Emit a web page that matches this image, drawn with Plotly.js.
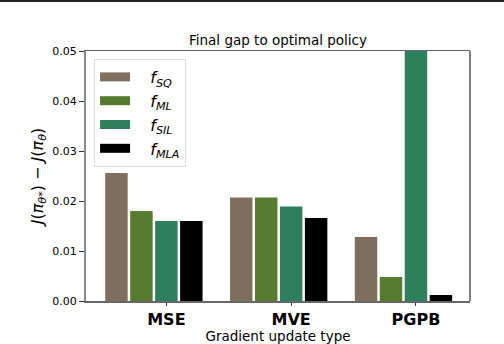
<!DOCTYPE html>
<html>
<head>
<meta charset="utf-8">
<script src="https://cdn.plot.ly/plotly-3.0.1.min.js"></script>
<style>
  body { margin: 0; background: #fff; }
  #chart { width: 504px; height: 342px; border-top: 2px solid #222; }
</style>
</head>
<body>
<div id="chart"></div>
<script>
// gradient update types on the x axis
const categories = ['MSE', 'MVE', 'PGPB'];

// final gap per loss function
const fSQ  = [0.0256, 0.0207, 0.0128];
const fML  = [0.0180, 0.0207, 0.0048];
const fSIL = [0.0160, 0.0189, 0.0520];
const fMLA = [0.0160, 0.0166, 0.0012];

const seriesNames = [
    '<i>f</i><sub><i>SQ</i></sub>',
    '<i>f</i><sub><i>ML</i></sub>',
    '<i>f</i><sub><i>SIL</i></sub>',
    '<i>f</i><sub><i>MLA</i></sub>'
];
const seriesColors = ['#806f5f', '#567d2f', '#2e7f5e', '#000000'];
const seriesValues = [fSQ, fML, fSIL, fMLA];

let traces = [];
// bars, shifted so the tick lands on the third bar like in the original
seriesValues.forEach(function(vals, k) {
    traces.push({
        type: 'bar',
        x: categories,
        y: vals,
        width: 0.18,
        offset: (k - 2) * 0.2 - 0.09,
        marker: {color: seriesColors[k], line: {width: 0}},
        showlegend: false,
        hoverinfo: 'skip'
    });
});
// legend proxies (wide flat swatches)
seriesValues.forEach(function(vals, k) {
    traces.push({
        type: 'scatter',
        mode: 'lines',
        x: [null],
        y: [null],
        name: '\u00a0\u00a0\u00a0' + seriesNames[k],
        line: {color: seriesColors[k], width: 9}
    });
});

var layout = {
    width: 504,
    height: 342,
    margin: {l: 86, r: 34, t: 49, b: 43, pad: 0},
    paper_bgcolor: '#fff',
    plot_bgcolor: '#fff',
    font: {family: 'DejaVu Sans', size: 11, color: '#000'},
    barmode: 'overlay',
    title: {
        text: 'Final gap to optimal policy',
        font: {size: 13.5},
        x: 0.5, xref: 'paper',
        y: 1, yref: 'paper', yanchor: 'bottom',
        pad: {b: 6}
    },
    xaxis: {
        type: 'category',
        range: [-0.644, 2.433],
        showgrid: false,
        zeroline: false,
        showline: true,
        linecolor: '#666',
        linewidth: 1.5,
        mirror: true,
        ticks: 'outside',
        ticklen: 3,
        tickcolor: '#333',
        tickfont: {family: 'DejaVu Sans', size: 16, weight: 'bold'},
        title: {text: 'Gradient update type', font: {size: 13.5}, standoff: 3}
    },
    yaxis: {
        range: [0, 0.05],
        tickvals: [0, 0.01, 0.02, 0.03, 0.04, 0.05],
        tickformat: '.2f',
        showgrid: false,
        zeroline: false,
        showline: true,
        linecolor: '#888',
        linewidth: 2,
        ticks: 'outside',
        ticklen: 5,
        tickcolor: '#333',
        tickfont: {size: 11},
        title: {
            text: '<i>J</i>(<i>π</i><sub><i>θ</i>*</sub>) − <i>J</i>(<i>π</i><sub><i>θ</i></sub>)',
            font: {size: 16},
            standoff: 5
        }
    },
    shapes: [
        {type: 'line', xref: 'paper', yref: 'paper', x0: 1, x1: 1, y0: 0, y1: 1,
         line: {color: '#555', width: 1.5}}
    ],
    legend: {
        x: 0.021, y: 0.968, xanchor: 'left', yanchor: 'top',
        bgcolor: 'rgba(255,255,255,0.85)',
        bordercolor: '#ddd',
        borderwidth: 1,
        font: {size: 16},
        itemwidth: 30,
        tracegroupgap: 0
    }
};

Plotly.newPlot('chart', traces, layout, {displayModeBar: false, staticPlot: true});
</script>
</body>
</html>
